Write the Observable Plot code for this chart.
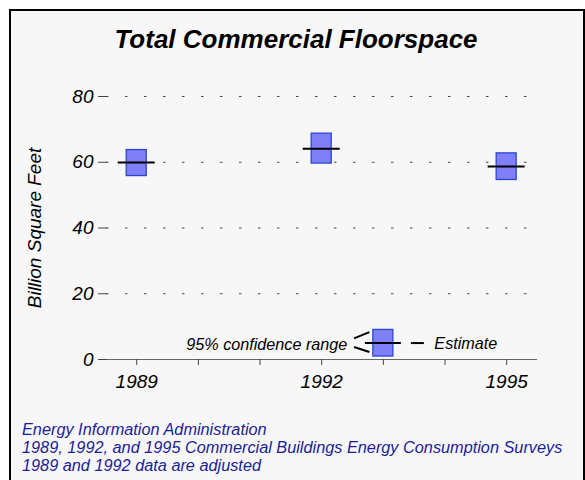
<!DOCTYPE html>
<html>
<head>
<meta charset="utf-8">
<script src="https://cdn.jsdelivr.net/npm/d3@7"></script>
<script src="https://cdn.jsdelivr.net/npm/@observablehq/plot@0.6"></script>
<style>
  html, body { margin: 0; padding: 0; background: #ffffff; }
  #page { position: relative; width: 585px; height: 480px; overflow: hidden; }
  #frame { position: absolute; left: 9px; top: 9px; width: 572px; height: 480px;
           border: 2px solid #000; background: #f7f7f7; }
  #title { position: absolute; left: 9px; width: 574px; top: 26px; text-align: center;
           font: italic bold 26px/26px Arial, "Liberation Sans", sans-serif; color: #000; }
  #chart { position: absolute; left: 0; top: 0; }
  #footer { position: absolute; left: 22px; top: 420px;
            font: italic 16.3px/18px Arial, "Liberation Sans", sans-serif; color: #1c1c96; }
</style>
</head>
<body>
<div id="page">
  <div id="frame"></div>
  <div id="title"></div>
  <div id="chart"></div>
  <div id="footer"></div>
</div>
<script>
// ---- data ----
const titleText = "Total Commercial Floorspace";
const yLabel = "Billion Square Feet";
const footerLines = [
  "Energy Information Administration",
  "1989, 1992, and 1995 Commercial Buildings Energy Consumption Surveys",
  "1989 and 1992 data are adjusted"
];
const years = [1989, 1992, 1995];
const estimate = [59.9, 64.1, 58.7];
const lower = [55.8, 59.6, 54.6];
const upper = [63.7, 68.7, 62.7];
const yTicks = [0, 20, 40, 60, 80];
const xTicks = [1989, 1990, 1991, 1992, 1993, 1994, 1995];
const xLabels = [1989, 1992, 1995];
const legendYear = [1993];
const legendEstimate = [5.0];
const legendLower = [0.9];
const legendUpper = [9.0];
const rangeLabel = "95% confidence range";
const estimateLabel = "Estimate";

// ---- tables ----
const data = years.map((y, i) => ({year: y, est: estimate[i], lo: lower[i], hi: upper[i]}));
const legend = legendYear.map((y, i) => ({year: y, est: legendEstimate[i], lo: legendLower[i], hi: legendUpper[i]}));

document.getElementById("title").textContent = titleText;
document.getElementById("footer").innerHTML = footerLines.map(s => `<div>${s}</div>`).join("");

const boxFill = "#7f7ff8";
const boxStroke = "#2b46d2";

// bracket symbol for the legend ("<" pointing at the box)
const bracket = {
  draw(ctx) {
    ctx.moveTo(-29.3, -4.7); ctx.lineTo(-14, -11);
    ctx.moveTo(-29.3, 4); ctx.lineTo(-14, 9);
  }
};

const chart = Plot.plot({
  width: 585,
  height: 400,
  marginTop: 96,
  marginBottom: 41,
  marginLeft: 98,
  marginRight: 48,
  style: {background: "none", fontFamily: 'Arial, "Liberation Sans", sans-serif', fontSize: "19px", fontStyle: "italic", color: "#000"},
  x: {domain: [1988.38, 1995.5], axis: null},
  y: {domain: [0, 80], axis: null},
  marks: [
    Plot.gridY(yTicks, {stroke: "#444", strokeOpacity: 1, strokeWidth: 1, strokeDasharray: "2.5,16.5", strokeDashoffset: 11}),
    Plot.ruleY([0], {stroke: "#666", strokeWidth: 1}),
    Plot.axisY(yTicks, {tickSize: 9, tickPadding: 5, dx: 9, stroke: "#444", label: null, tickFormat: d => String(d)}),
    Plot.axisX(xTicks, {tickSize: 6, tickFormat: () => "", stroke: "#444", label: null}),
    Plot.axisX(xLabels, {tickSize: 0, tickPadding: 15, tickFormat: d => String(d), label: null}),
    Plot.text([yLabel], {frameAnchor: "left", textAnchor: "middle", rotate: -90, dx: -64, text: d => d, fontSize: 19}),
    // data boxes
    Plot.rect(data, {x1: "year", x2: "year", y1: "lo", y2: "hi", insetLeft: -10, insetRight: -10, fill: boxFill, stroke: boxStroke, strokeWidth: 1.3}),
    Plot.ruleY(data, {y: "est", x1: "year", x2: "year", insetLeft: -18.5, insetRight: -18.5, stroke: "#000", strokeWidth: 2}),
    // legend
    Plot.rect(legend, {x1: "year", x2: "year", y1: "lo", y2: "hi", insetLeft: -10, insetRight: -10, fill: boxFill, stroke: boxStroke, strokeWidth: 1.3}),
    Plot.ruleY(legend, {y: "est", x1: "year", x2: "year", insetLeft: -18, insetRight: -18, stroke: "#000", strokeWidth: 2}),
    Plot.ruleY(legend, {y: "est", x1: "year", x2: "year", insetLeft: 28, insetRight: -41, stroke: "#000", strokeWidth: 2}),
    Plot.dot(legend, {x: "year", y: "est", symbol: bracket, fill: "none", stroke: "#000", strokeWidth: 2}),
    Plot.text(legend, {x: "year", y: "est", text: () => rangeLabel, textAnchor: "end", dx: -36, dy: 2, fontSize: 16.2}),
    Plot.text(legend, {x: "year", y: "est", text: () => estimateLabel, textAnchor: "start", dx: 51, dy: 1, fontSize: 16.2})
  ]
});
document.getElementById("chart").appendChild(chart);
</script>
</body>
</html>
